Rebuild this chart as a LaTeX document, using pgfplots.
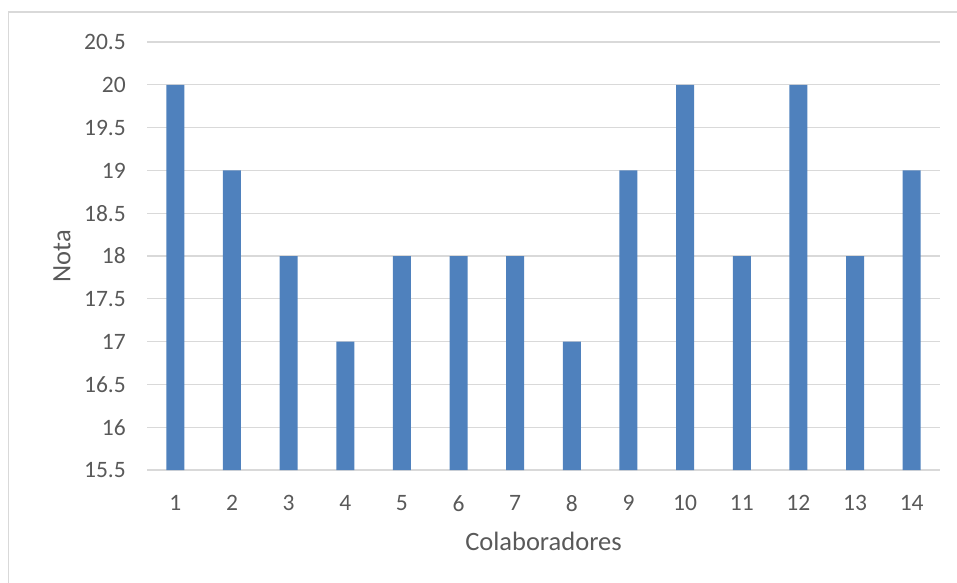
\documentclass[border=0pt]{standalone}
\usepackage{pgfplots}
\pgfplotsset{compat=1.18}
\usepackage{fontspec}
\setmainfont{Carlito}
\definecolor{barblue}{HTML}{4F81BD}
\definecolor{textgray}{HTML}{595959}
\definecolor{gridgray}{HTML}{D9D9D9}
\begin{document}
\begin{tikzpicture}[x=1pt,y=1pt]
\useasboundingbox (0,0) rectangle (957,582);
% chart frame
\draw[gridgray, line width=1.3pt] (8.5,-2) -- (8.5,570) -- (960,570);
\begin{axis}[
  at={(147pt,112pt)}, anchor=south west,
  scale only axis, width=793pt, height=428pt,
  xmin=0.5, xmax=14.5, ymin=15.5, ymax=20.5,
  xtick={1,...,14},
  ytick={15.5,16,16.5,17,17.5,18,18.5,19,19.5,20,20.5},
  ymajorgrids, grid style={gridgray, line width=1.3pt},
  axis line style={draw=none}, tick style={draw=none},
  /pgf/number format/assume math mode=true,
  ticklabel style={font=\fontsize{23.5}{28}\selectfont, text=textgray, inner sep=0pt},
  yticklabel style={anchor=east, xshift=-21pt},
  xticklabel style={anchor=north, yshift=-21pt},
  xlabel={Colaboradores}, ylabel={Nota},
  label style={font=\fontsize{26.5}{31}\selectfont, text=textgray},
  xlabel style={at={(axis description cs:0.5,-0.166)}, anchor=center},
  ylabel style={at={(axis description cs:-0.1072,0.5)}, anchor=center},
  ybar, bar width=18pt,
]
\addplot[fill=barblue, draw=none] coordinates {
  (1,20) (2,19) (3,18) (4,17) (5,18) (6,18) (7,18)
  (8,17) (9,19) (10,20) (11,18) (12,20) (13,18) (14,19)
};
\end{axis}
\end{tikzpicture}
\end{document}
